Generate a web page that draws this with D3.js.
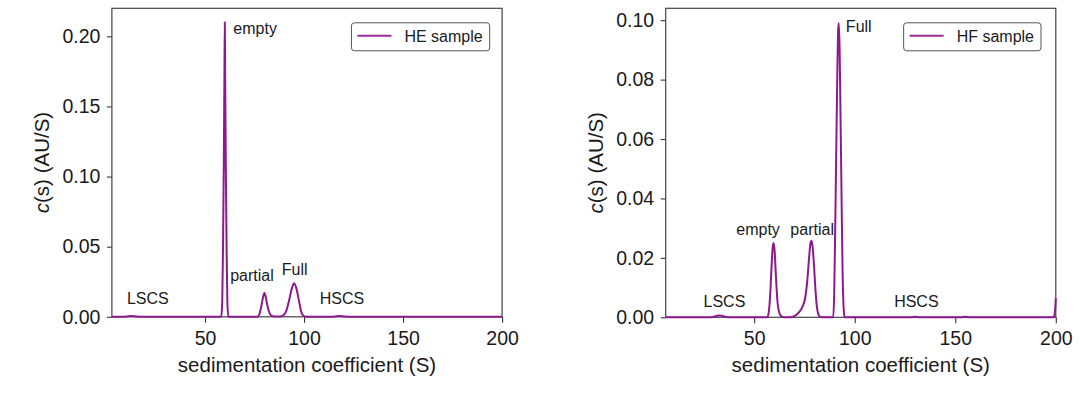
<!DOCTYPE html>
<html>
<head>
<meta charset="utf-8">
<script src="https://cdn.jsdelivr.net/npm/d3@7"></script>
<style>
  body { margin: 0; background: #fff; }
  svg { display: block; font-family: "Liberation Sans", Arial, sans-serif; }
</style>
</head>
<body>
<svg id="chart" width="1080" height="398"></svg>
<script>
// c(s) distributions, [s (S), c(s) (AU/S)]
const heCurve = [
  [3, 0], [8, 0], [10.5, 0.0002], [12.5, 0.0006], [14.5, 0.0004], [17, 0], [30, 0], [55, 0],
  [58.2, 0], [58.7, 0.01], [59.1, 0.05], [59.5, 0.11], [59.8, 0.17], [60, 0.21],
  [60.2, 0.17], [60.5, 0.11], [60.9, 0.05], [61.3, 0.01], [61.8, 0], [70, 0],
  [76.5, 0], [77.5, 0.002], [78.5, 0.008], [79.3, 0.014], [80, 0.017], [80.7, 0.014],
  [81.5, 0.008], [82.5, 0.003], [83.5, 0.0008], [85, 0.0002], [88, 0.0002],
  [89.5, 0.001], [91, 0.004], [92.5, 0.012], [94, 0.021], [95, 0.024], [96, 0.021],
  [97.5, 0.011], [98.5, 0.004], [99.5, 0.001], [101, 0], [110, 0],
  [114, 0], [116, 0.0003], [118, 0.0005], [120, 0.0003], [123, 0], [150, 0], [200, 0]
];
const hfCurve = [
  [6, 0], [20, 0], [28, 0], [30, 0.0002], [32, 0.0006], [34, 0.0005], [36, 0.0001], [38, 0],
  [50, 0], [56.5, 0], [57.3, 0.002], [58, 0.008], [58.7, 0.018], [59.3, 0.024],
  [59.7, 0.025], [60.2, 0.022], [60.8, 0.014], [61.5, 0.006], [62.3, 0.002],
  [63.5, 0.0003], [65, 0], [68, 0], [70, 0.0004], [72, 0.0015], [74, 0.0035],
  [75.5, 0.007], [76.5, 0.013], [77.3, 0.02], [78, 0.025], [78.5, 0.0258], [79, 0.024],
  [79.7, 0.018], [80.5, 0.009], [81.3, 0.003], [82.3, 0.0005], [83.5, 0], [89.3, 0],
  [89.8, 0.008], [90.3, 0.03], [90.8, 0.055], [91.3, 0.08], [91.8, 0.097], [92.1, 0.099],
  [92.5, 0.09], [93, 0.065], [93.5, 0.038], [94, 0.014], [94.5, 0.003], [95, 0],
  [128, 0], [130, 0.0002], [132, 0], [153, 0], [155, 0.0002], [157, 0],
  [199, 0], [199.6, 0.002], [200, 0.0064]
];

// axis ranges and ticks
const heXDomain = [3, 200];
const hfXDomain = [6, 200];
const heYDomain = [0, 0.22];
const hfYDomain = [0, 0.104];
const xTicks = [50, 100, 150, 200];
const heYTicks = [0, 0.05, 0.10, 0.15, 0.20];
const hfYTicks = [0, 0.02, 0.04, 0.06, 0.08, 0.10];

// peak annotations: name and anchor [s, c]
const heLabelNames = ['empty', 'partial', 'Full', 'LSCS', 'HSCS'];
const heLabelAt = [[64.3, 0.202], [62.7, 0.0256], [88.8, 0.0299], [10.6, 0.009], [107.9, 0.009]];
const hfLabelNames = ['Full', 'empty', 'partial', 'LSCS', 'HSCS'];
const hfLabelAt = [[95.6, 0.096], [41.1, 0.0278], [68.0, 0.0278], [24.8, 0.0036], [119.6, 0.0036]];

const seriesNames = ['HE sample', 'HF sample'];

const lineColor = '#8c1a8d';
const svg = d3.select('#chart');

function panel(box, curve, xDom, yDom, yTicks, names, anchors, legendName) {
    const g = svg.append('g');
    const x = d3.scaleLinear().domain(xDom).range([box.left, box.right]);
    const y = d3.scaleLinear().domain(yDom).range([box.bottom, box.top]);

    // x axis
    const xa = g.append('g')
        .attr('transform', `translate(0,${box.bottom})`)
        .call(d3.axisBottom(x).tickValues(xTicks).tickSize(6).tickPadding(8).tickSizeOuter(0));
    // y axis
    const ya = g.append('g')
        .attr('transform', `translate(${box.left},0)`)
        .call(d3.axisLeft(y).tickValues(yTicks).tickSize(5).tickPadding(6.5)
            .tickSizeOuter(0).tickFormat(d3.format('.2f')));
    [xa, ya].forEach(a => {
        a.select('.domain').remove();
        a.selectAll('line').attr('stroke', '#333').attr('stroke-width', 1.1);
        a.selectAll('text').attr('fill', '#1a1a1a').style('font-size', '19.5px')
            .style('font-family', '"Liberation Sans", Arial, sans-serif');
    });

    // frame
    g.append('rect')
        .attr('x', box.left).attr('y', box.top)
        .attr('width', box.right - box.left).attr('height', box.bottom - box.top)
        .attr('fill', 'none').attr('stroke', '#444').attr('stroke-width', 1.2);

    // curve
    g.append('path')
        .datum(curve)
        .attr('d', d3.line().x(d => x(d[0])).y(d => y(d[1])).curve(d3.curveMonotoneX))
        .attr('fill', 'none')
        .attr('stroke', lineColor)
        .attr('stroke-width', 2)
        .attr('stroke-linejoin', 'round');

    // annotations
    g.selectAll('text.ann')
        .data(names)
        .join('text')
        .attr('class', 'ann')
        .attr('x', (d, i) => x(anchors[i][0]))
        .attr('y', (d, i) => y(anchors[i][1]))
        .style('font-size', '16px')
        .attr('fill', '#1a1a1a')
        .text(d => d);

    // axis labels
    g.append('text')
        .attr('x', (box.left + box.right) / 2)
        .attr('y', 372)
        .attr('text-anchor', 'middle')
        .style('font-size', '20.5px')
        .attr('fill', '#1a1a1a')
        .text('sedimentation coefficient (S)');
    const yl = g.append('text')
        .attr('transform', `translate(${box.left - 63},${(box.top + box.bottom) / 2}) rotate(-90)`)
        .attr('text-anchor', 'middle')
        .style('font-size', '20.5px')
        .attr('fill', '#1a1a1a');
    yl.append('tspan').style('font-style', 'italic').text('c');
    yl.append('tspan').text('(s) (AU/S)');

    // legend
    const lg = g.append('g');
    const lt = lg.append('text')
        .attr('x', 53).attr('y', 14)
        .attr('dy', '0.35em')
        .style('font-size', '16px')
        .attr('fill', '#1a1a1a')
        .text(legendName);
    const tw = lt.node().getComputedTextLength();
    const lw = 53 + tw + 7;
    lg.insert('rect', 'text')
        .attr('width', lw).attr('height', 28)
        .attr('rx', 3)
        .attr('fill', '#fff').attr('stroke', '#555').attr('stroke-width', 1);
    lg.append('line')
        .attr('x1', 6).attr('x2', 40).attr('y1', 13).attr('y2', 13)
        .attr('stroke', '#9a2a9c').attr('stroke-width', 2);
    lg.attr('transform', `translate(${box.right - box.inset - lw},${box.top + 14.5})`);
}

panel({left: 111.9, right: 502.1, top: 8.3, bottom: 316.8, inset: 12.4},
    heCurve, heXDomain, heYDomain, heYTicks, heLabelNames, heLabelAt, seriesNames[0]);
panel({left: 665.7, right: 1055.8, top: 8.3, bottom: 317.3, inset: 14.8},
    hfCurve, hfXDomain, hfYDomain, hfYTicks, hfLabelNames, hfLabelAt, seriesNames[1]);
</script>
</body>
</html>
